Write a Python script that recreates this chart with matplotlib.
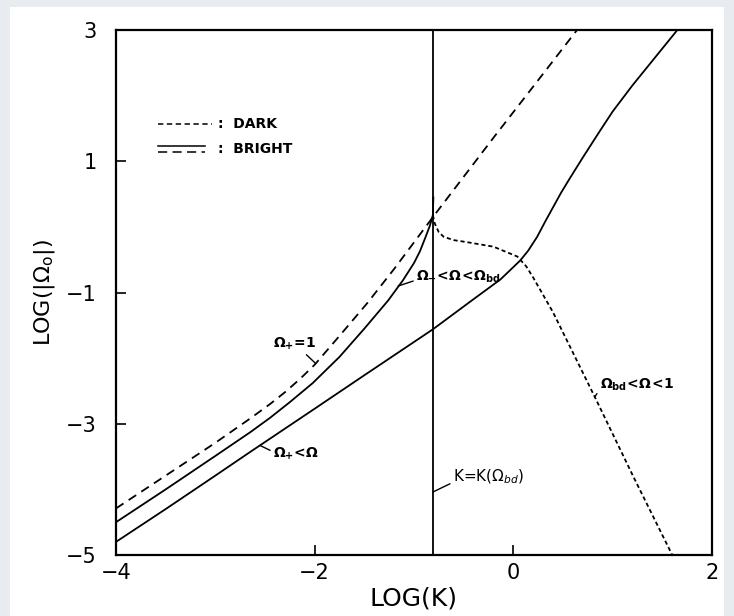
import numpy as np
import matplotlib
matplotlib.use('Agg')
import matplotlib.pyplot as plt
from matplotlib.patches import Rectangle

# Datos: LOG(K) frente a LOG(|Omega_0|)
k_bd = -0.81  # K = K(Omega_bd)

# Omega_+ = 1 (bright, trazo largo)
k_mas1 = [-4.00, -3.50, -3.00, -2.65, -2.45, -2.30, -2.15, -2.00, -1.75, -1.47, -1.20, -0.81, -0.20, 0.20, 0.64]
w_mas1 = [-4.29, -3.79, -3.29, -2.92, -2.70, -2.52, -2.32, -2.10, -1.66, -1.16, -0.64, 0.15, 1.36, 2.14, 3.00]

# Omega_- < Omega < Omega_bd (bright, continua)
k_menos = [-4.00, -3.50, -3.00, -2.65, -2.45, -2.25, -2.02, -1.75, -1.50, -1.26, -1.11, -1.00, -0.94, -0.88, -0.84, -0.81, -0.805]
w_menos = [-4.50, -4.00, -3.49, -3.13, -2.91, -2.67, -2.38, -1.98, -1.55, -1.12, -0.81, -0.55, -0.37, -0.14, 0.02, 0.18, 0.45]

# Omega_+ < Omega (bright, continua)
k_mas = [-4.00, -3.50, -3.00, -2.65, -2.00, -1.50, -0.81, -0.40, -0.13, 0.07, 0.15, 0.24, 0.32, 0.40, 0.48, 0.56, 0.70, 0.87, 1.00, 1.20, 1.35, 1.65]
w_mas = [-4.80, -4.30, -3.79, -3.43, -2.77, -2.26, -1.56, -1.10, -0.80, -0.51, -0.36, -0.15, 0.08, 0.30, 0.52, 0.72, 1.06, 1.46, 1.76, 2.16, 2.44, 3.00]

# Omega_bd < Omega < 1 (dark, trazo corto)
k_dark = [-0.81, -0.79, -0.75, -0.70, -0.60, -0.47, -0.20, 0.04, 0.13, 0.20, 0.40, 0.82, 1.21, 1.60]
w_dark = [0.18, 0.05, -0.08, -0.15, -0.20, -0.23, -0.30, -0.45, -0.60, -0.77, -1.30, -2.59, -3.81, -5.00]

xticks = [-4, -2, 0, 2]
yticks = [-5, -3, -1, 1, 3]

fig = plt.figure(figsize=(7.34, 6.16), dpi=100, facecolor='#e8ecf0')
fig.patches.append(Rectangle((0.014, 0.0), 0.972, 0.988, transform=fig.transFigure,
                             facecolor='white', edgecolor='none', zorder=-1))
ax = fig.add_axes([0.158, 0.099, 0.812, 0.852])

lw = 1.3
ax.axvline(k_bd, color='black', lw=lw)
l1, = ax.plot(k_mas1, w_mas1, color='black', lw=lw)
l1.set_dashes((5.0, 3.4))
ax.plot(k_menos, w_menos, color='black', lw=lw)
ax.plot(k_mas, w_mas, color='black', lw=lw)
l2, = ax.plot(k_dark, w_dark, color='black', lw=lw)
l2.set_dashes((2.3, 1.6))

ax.set_xlim(-4, 2)
ax.set_ylim(-5, 3)
ax.set_xticks(xticks)
ax.set_yticks(yticks)
ax.tick_params(direction='in', length=7, width=1.2, labelsize=15, pad=6)
ax.tick_params(axis='y', pad=14)
for s in ax.spines.values():
    s.set_linewidth(1.6)

ax.set_xlabel('LOG(K)', fontsize=18, labelpad=2)
ax.set_ylabel(r'LOG(|$\Omega_\mathrm{o}$|)', fontsize=16, labelpad=6)

# leyenda dibujada a mano
ax.plot([0.070, 0.161], [0.821, 0.821], transform=ax.transAxes, color='black', lw=1.1, dashes=(3.5, 2.3))
ax.plot([0.070, 0.149], [0.780, 0.780], transform=ax.transAxes, color='black', lw=1.1)
ax.plot([0.070, 0.149], [0.767, 0.767], transform=ax.transAxes, color='black', lw=1.1, dashes=(6.0, 3.5))
ax.text(0.172, 0.821, ':  DARK', transform=ax.transAxes, fontsize=10, fontweight='bold', va='center')
ax.text(0.172, 0.773, ':  BRIGHT', transform=ax.transAxes, fontsize=10, fontweight='bold', va='center')

aprops = dict(arrowstyle='-', color='black', lw=1.0, shrinkA=0, shrinkB=0)
ax.annotate(r'$\mathbf{\Omega_{-}\!<\!\Omega\!<\!\Omega_{bd}}$', xy=(-1.16, -0.90), xytext=(-0.98, -0.76),
            fontsize=10, va='center', ha='left', arrowprops=dict(aprops, relpos=(0, 0.3)))
ax.annotate(r'$\mathbf{\Omega_{+}\!=\!1}$', xy=(-1.99, -2.08), xytext=(-2.20, -1.78),
            fontsize=10, va='center', ha='center', arrowprops=dict(aprops, relpos=(0.7, 0)))
ax.annotate(r'$\mathbf{\Omega_{+}\!<\!\Omega}$', xy=(-2.55, -3.33), xytext=(-2.42, -3.45),
            fontsize=10, va='center', ha='left', arrowprops=dict(aprops, relpos=(0, 0.6)))
ax.annotate(r'$\mathbf{\Omega_{bd}\!<\!\Omega\!<\!1}$', xy=(0.82, -2.59), xytext=(0.87, -2.40),
            fontsize=10, va='center', ha='left', arrowprops=dict(aprops, relpos=(0, 0.2)))
ax.annotate(r'K=K($\Omega_{bd}$)', xy=(k_bd, -4.04), xytext=(-0.61, -3.81),
            fontsize=11, va='center', ha='left', arrowprops=dict(aprops, relpos=(0, 0.2)))

fig.savefig('out.png', dpi=100, facecolor=fig.get_facecolor())
